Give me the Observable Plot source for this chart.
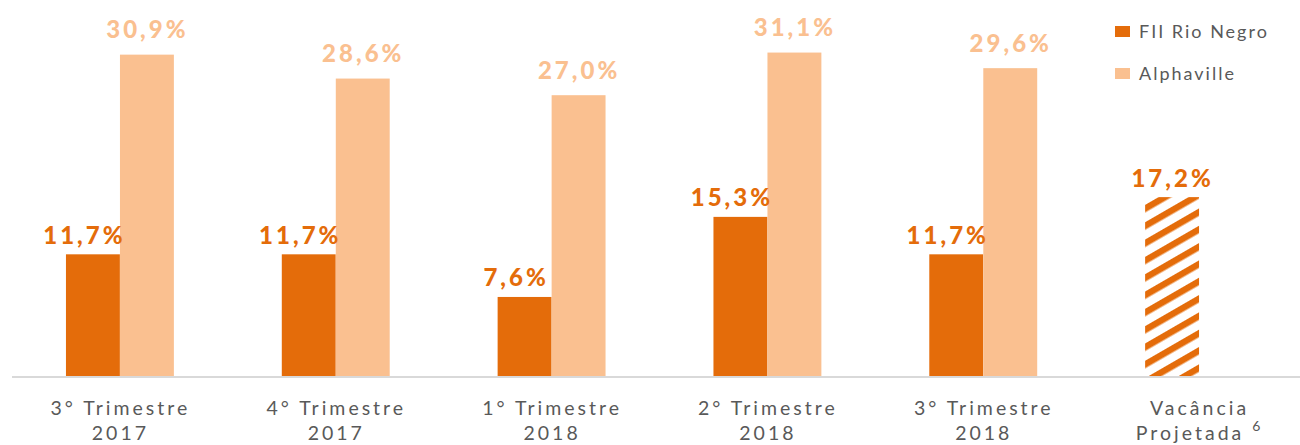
<!DOCTYPE html>
<html>
<head>
<meta charset="utf-8">
<script src="https://cdn.jsdelivr.net/npm/d3@7"></script>
<script src="https://cdn.jsdelivr.net/npm/@observablehq/plot@0.6"></script>
<style>
  html, body { margin: 0; padding: 0; background: #fff; }
  #wrap { position: relative; width: 1300px; height: 445px; overflow: hidden; font-family: Lato, "Open Sans", sans-serif; }
  .legend { position: absolute; left: 1115px; color: #595959; font-size: 18px; letter-spacing: 2px; display: flex; align-items: center; }
  .legend span.sw { display: inline-block; width: 15px; height: 11px; margin-right: 9px; }
</style>
</head>
<body>
<div id="wrap"></div>
<script>
const groups = ["3° Trimestre\n2017", "4° Trimestre\n2017", "1° Trimestre\n2018", "2° Trimestre\n2018", "3° Trimestre\n2018", "Vacância\nProjetada ⁶"];
const fii = [11.7, 11.7, 7.6, 15.3, 11.7, 17.2];
const alphaville = [30.9, 28.6, 27.0, 31.1, 29.6, null];
const projected = [false, false, false, false, false, true];
const seriesNames = ["FII Rio Negro", "Alphaville"];
const colors = ["#E46C0A", "#FAC090"];

const rows = groups.map((g, i) => ({group: g, fii: fii[i], alpha: alphaville[i], projected: projected[i]}));
const fmt = v => v.toFixed(1).replace(".", ",") + "%";

const plot = Plot.plot({
  width: 1300,
  height: 445,
  marginLeft: 12,
  marginRight: -7,
  marginTop: 12,
  marginBottom: 69,
  style: {fontFamily: "Lato, 'Open Sans', sans-serif", background: "white"},
  x: {domain: groups, paddingInner: 0.5, paddingOuter: 0.25, round: false, label: null},
  y: {domain: [0, 35], axis: null},
  marks: [
    Plot.barY(rows.filter(d => !d.projected), {x: "group", y: "fii", fill: colors[0], insetRight: 54}),
    Plot.barY(rows.filter(d => d.projected), {x: "group", y: "fii", fill: "url(#hatch)", insetRight: 54}),
    Plot.barY(rows.filter(d => d.alpha != null), {x: "group", y: "alpha", fill: colors[1], insetLeft: 54}),
    Plot.ruleY([0], {stroke: "#D9D9D9", strokeWidth: 2, dy: 0.5}),
    Plot.text(rows.filter(d => !d.projected), {x: "group", y: "fii", text: d => fmt(d.fii), dx: -27 - 9, dy: -11, lineAnchor: "bottom", fill: colors[0], fontSize: 24, fontWeight: 900}),
    Plot.text(rows.filter(d => d.projected), {x: "group", y: "fii", text: d => fmt(d.fii), dx: -27, dy: -11, lineAnchor: "bottom", fill: colors[0], fontSize: 24, fontWeight: 900}),
    Plot.text(rows.filter(d => d.alpha != null), {x: "group", y: "alpha", text: d => fmt(d.alpha), dx: 27, dy: -17, lineAnchor: "bottom", fill: colors[1], fontSize: 24, fontWeight: 900}),
    Plot.axisX({tickSize: 0, tickPadding: 21, fontSize: 19.5, lineHeight: 1.28, fill: "#595959", label: null})
  ]
});

// hatch pattern
const ns = "http://www.w3.org/2000/svg";
const defs = document.createElementNS(ns, "defs");
const pat = document.createElementNS(ns, "pattern");
pat.setAttribute("id", "hatch");
pat.setAttribute("patternUnits", "userSpaceOnUse");
pat.setAttribute("width", "10");
pat.setAttribute("height", "15");
pat.setAttribute("patternTransform", "rotate(-30)");
const bg = document.createElementNS(ns, "rect");
bg.setAttribute("width", "10"); bg.setAttribute("height", "15"); bg.setAttribute("fill", "#fff");
const st = document.createElementNS(ns, "rect");
st.setAttribute("width", "10"); st.setAttribute("height", "6.5"); st.setAttribute("fill", colors[0]);
pat.appendChild(bg); pat.appendChild(st);
defs.appendChild(pat);
plot.insertBefore(defs, plot.firstChild);
plot.querySelectorAll("text").forEach(t => t.style.letterSpacing = "3px");

// larger superscript footnote marker
plot.querySelectorAll("tspan").forEach(ts => {
  if (ts.textContent.includes("⁶")) {
    ts.textContent = ts.textContent.replace(" ⁶", " ");
    const sup = document.createElementNS(ns, "tspan");
    sup.setAttribute("font-size", "14");
    sup.setAttribute("dy", "-9");
    sup.textContent = "6";
    ts.appendChild(sup);
  }
});

const wrap = document.getElementById("wrap");
wrap.appendChild(plot);
seriesNames.forEach((name, i) => {
  const d = document.createElement("div");
  d.className = "legend";
  d.style.top = (i === 0 ? 20 : 62) + "px";
  d.innerHTML = `<span class="sw" style="background:${colors[i]}"></span>`;
  d.appendChild(document.createTextNode(name));
  wrap.appendChild(d);
});
</script>
</body>
</html>
